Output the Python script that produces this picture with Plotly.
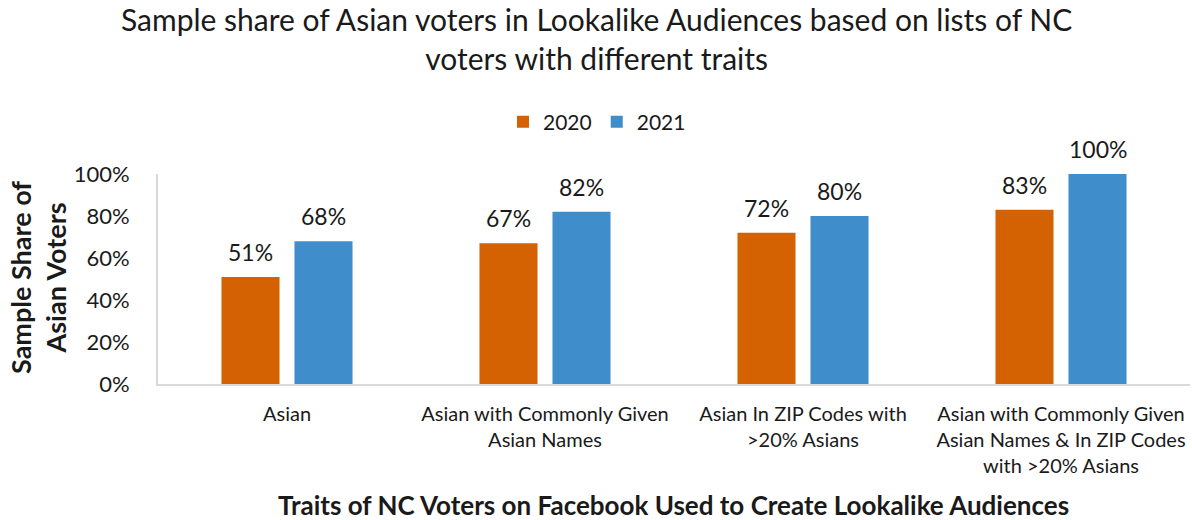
import plotly.graph_objects as go

categories = [
    "Asian",
    "Asian with Commonly Given<br>Asian Names",
    "Asian In ZIP Codes with<br>>20% Asians",
    "Asian with Commonly Given<br>Asian Names & In ZIP Codes<br>with >20% Asians",
]
share_2020 = [0.51, 0.67, 0.72, 0.83]
share_2021 = [0.68, 0.82, 0.80, 1.00]
series = [("2020", share_2020, "#D46102"), ("2021", share_2021, "#3F8DCB")]

FONT = "Lato, 'Open Sans', sans-serif"
INK = "#1a1a1a"

W, H = 1192, 520
ML, MR, MT, MB = 158, 2, 174, 136
PW, PH = W - ML - MR, H - MT - MB


def py(pix):
    """Convert a pixel row from the top of the page into paper y."""
    return (H - MB - pix) / PH


def px(pix):
    return (pix - ML) / PW


fig = go.Figure()
for name, vals, color in series:
    fig.add_trace(go.Bar(
        x=categories, y=vals, name=name,
        marker=dict(color=color, line=dict(width=0)),
        cliponaxis=False,
    ))

# value labels above each bar, offset to the bar's slot within the group
slot_shift = 36.5
annotations = []
for i, (name, vals, color) in enumerate(series):
    shift = -slot_shift if i == 0 else slot_shift
    for cat, v in zip(categories, vals):
        annotations.append(dict(
            x=cat, y=v, xref="x", yref="y", text=f"{v:.0%}", showarrow=False,
            xanchor="center", yanchor="bottom", xshift=shift, yshift=9,
            font=dict(size=23, color=INK, family=FONT),
        ))

annotations += [
    dict(text="Sample share of Asian voters in Lookalike Audiences based on lists of NC<br>voters with different traits",
         xref="paper", yref="paper", x=px(596), y=py(-1), xanchor="center", yanchor="top",
         showarrow=False, font=dict(size=30, color=INK, family=FONT)),
    dict(text="<b>Traits of NC Voters on Facebook Used to Create Lookalike Audiences</b>",
         xref="paper", yref="paper", x=px(673), y=py(505), xanchor="center", yanchor="middle",
         showarrow=False, font=dict(size=26, color=INK, family=FONT)),
    dict(text="<b>Sample Share of<br>Asian Voters</b>", textangle=-90,
         xref="paper", yref="paper", x=px(38), y=py(278), xanchor="center", yanchor="middle",
         showarrow=False, font=dict(size=27, color=INK, family=FONT)),
]

fig.update_layout(
    width=W, height=H,
    margin=dict(l=ML, r=MR, t=MT, b=MB),
    paper_bgcolor="white", plot_bgcolor="white",
    font=dict(family=FONT, color=INK),
    barmode="group", bargap=0.434, bargroupgap=0.205,
    legend=dict(
        orientation="h", x=px(597), xanchor="center", y=py(122), yanchor="middle",
        font=dict(size=21), traceorder="normal",
    ),
    xaxis=dict(
        showline=True, linecolor="#D9D9D9", linewidth=2,
        tickfont=dict(size=20), ticks="", ticklabelstandoff=11,
    ),
    yaxis=dict(
        range=[0, 1.0], tickvals=[0, 0.2, 0.4, 0.6, 0.8, 1.0], tickformat=".0%",
        showgrid=False, zeroline=False,
        showline=True, linecolor="#D9D9D9", linewidth=2,
        tickfont=dict(size=22), ticks="", ticklabelstandoff=22,
    ),
    annotations=annotations,
)

fig.write_html("out.html")
